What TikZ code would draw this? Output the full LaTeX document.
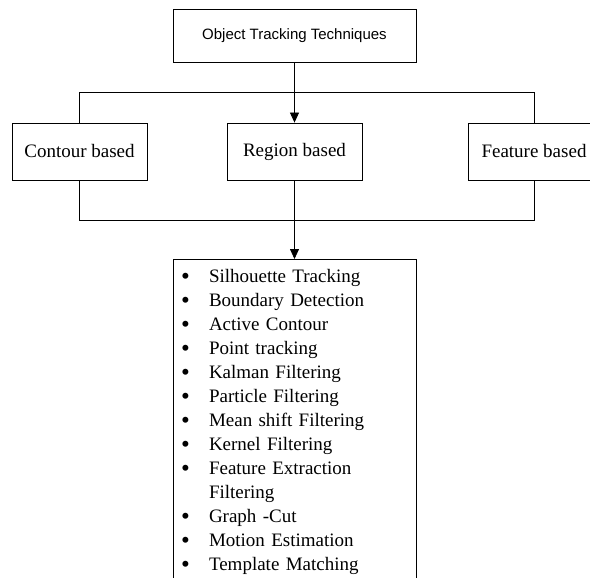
\documentclass[tikz,border=0pt]{standalone}
\usepackage{fontspec}
\setmainfont{Liberation Serif}
\newfontfamily\arialfont{Liberation Sans}
\usepackage{tikz}
\usetikzlibrary{arrows.meta, positioning}

\newcommand{\blt}{\makebox[30pt][l]{\hspace*{2pt}\smash{\raisebox{-2pt}{\fontsize{25}{24}\selectfont\textbullet}}}}
\newcommand{\itm}[1]{\blt#1\\}

\begin{document}
\begin{tikzpicture}[x=1pt, y=-1pt, line width=0.8pt,
    box/.style={draw, inner sep=0pt, minimum height=57pt, font=\fontsize{19}{23}\selectfont},
    arr/.style={-{Triangle[length=10pt, width=9pt]}}]
  \useasboundingbox (0,0) rectangle (590,578);
  \clip (0,0) rectangle (590,578);

  \node[draw, inner sep=0pt, minimum width=243pt, minimum height=53pt,
        font=\arialfont\fontsize{15}{18}\selectfont]
    (otech) at (294.5,35.5) {Object Tracking Techniques};
  \node[box, minimum width=135pt] (contour) at (79.5,151.5) {Contour based};
  \node[box, minimum width=135pt] (region) at (294.5,151.5) {Region based};
  \node[box, minimum width=132pt] (feature) at (534,151.5) {Feature based};
  \node[draw, anchor=north, text width=231pt, inner xsep=6pt, inner ysep=10pt, align=left,
        font=\fontsize{19}{24}\selectfont]
    (methods) at (294.5,259) {%
      \itm{Silhouette Tracking}
      \itm{Boundary Detection}
      \itm{Active Contour}
      \itm{Point tracking}
      \itm{Kalman Filtering}
      \itm{Particle Filtering}
      \itm{Mean shift Filtering}
      \itm{Kernel Filtering}
      \itm{Feature Extraction}
      \hspace*{30pt}Filtering\\
      \itm{Graph -Cut}
      \itm{Motion Estimation}
      \blt Template Matching};

  % branches
  \draw (contour.north) -- ++(0,-30) -| (feature.north);
  \draw (contour.south) -- ++(0,40) -| (feature.south);
  \draw[arr] (otech) -- (region);
  \draw[arr] (region) -- (methods.north);
\end{tikzpicture}
\end{document}
